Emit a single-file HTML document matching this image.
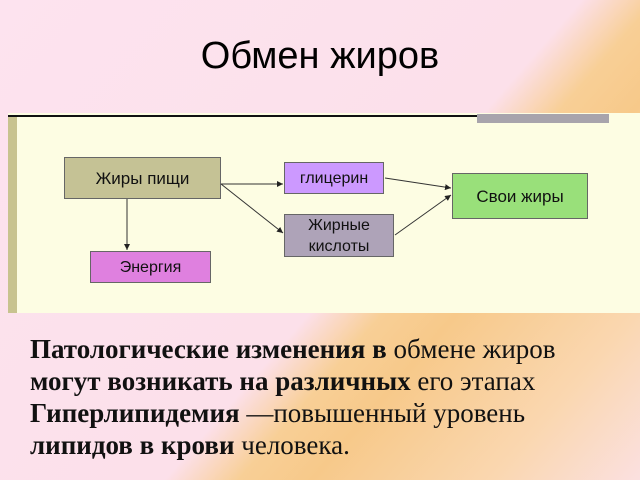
<!DOCTYPE html>
<html><head><meta charset="utf-8"><style>
html,body{margin:0;padding:0}
body{width:640px;height:480px;position:relative;overflow:hidden;font-family:"Liberation Sans",sans-serif;
background:linear-gradient(131deg,#fde3ef 0%,#fce0ea 55%,#f8cf96 62%,#f7c98a 69%,#fad7b0 86%,#fbe0e0 100%);}
.title{position:absolute;left:0;width:640px;top:35px;text-align:center;font-size:38px;color:#000}
.panel{position:absolute;left:8px;top:113px;width:632px;height:200px;background:#fdfde3}
.bar{position:absolute;left:8px;top:116px;width:9px;height:197px;background:#c8c38f}
.line{position:absolute;left:8px;top:115px;width:600px;height:2px;background:#111}
.grey{position:absolute;left:477px;top:114px;width:132px;height:9px;background:#a8a4ac}
.b{position:absolute;border:1px solid #666;box-sizing:border-box;display:flex;align-items:center;justify-content:center;text-align:center;font-size:16px;color:#111;line-height:21px}
.txt{position:absolute;left:30px;top:333px;font-family:"Liberation Serif",serif;font-size:27px;line-height:32px;color:#111;white-space:nowrap}
.txt b{font-weight:bold}
</style></head><body>
<div class="title">Обмен жиров</div>
<div class="panel"></div>
<div class="bar"></div>
<div class="line"></div>
<div class="grey"></div>
<div class="b" style="left:64px;top:157px;width:157px;height:42px;background:#c5c295;font-size:17px">Жиры пищи</div>
<div class="b" style="left:284px;top:162px;width:100px;height:32px;background:#cc99ff">глицерин</div>
<div class="b" style="left:284px;top:214px;width:110px;height:43px;background:#aea3b8">Жирные<br>кислоты</div>
<div class="b" style="left:452px;top:173px;width:136px;height:46px;background:#99e07a;font-size:17px">Свои жиры</div>
<div class="b" style="left:90px;top:251px;width:121px;height:32px;background:#df80df">Энергия</div>
<svg style="position:absolute;left:0;top:0" width="640" height="480">
<defs><marker id="a" markerWidth="6" markerHeight="6" refX="6" refY="3" orient="auto"><path d="M0,0 L6,3 L0,6z" fill="#222"/></marker></defs>
<g stroke="#333" stroke-width="1" fill="none" marker-end="url(#a)">
<line x1="221" y1="184" x2="283" y2="184"/>
<line x1="221" y1="184" x2="283" y2="233"/>
<line x1="127" y1="199" x2="127" y2="250"/>
<line x1="385" y1="178" x2="451" y2="188"/>
<line x1="395" y1="235" x2="451" y2="195"/>
</g></svg>
<div class="txt"><b>Патологические изменения в</b> обмене жиров<br><b>могут возникать на различных</b> его этапах<br><b>Гиперлипидемия</b> —повышенный уровень<br><b>липидов в крови</b> человека.</div>
</body></html>
